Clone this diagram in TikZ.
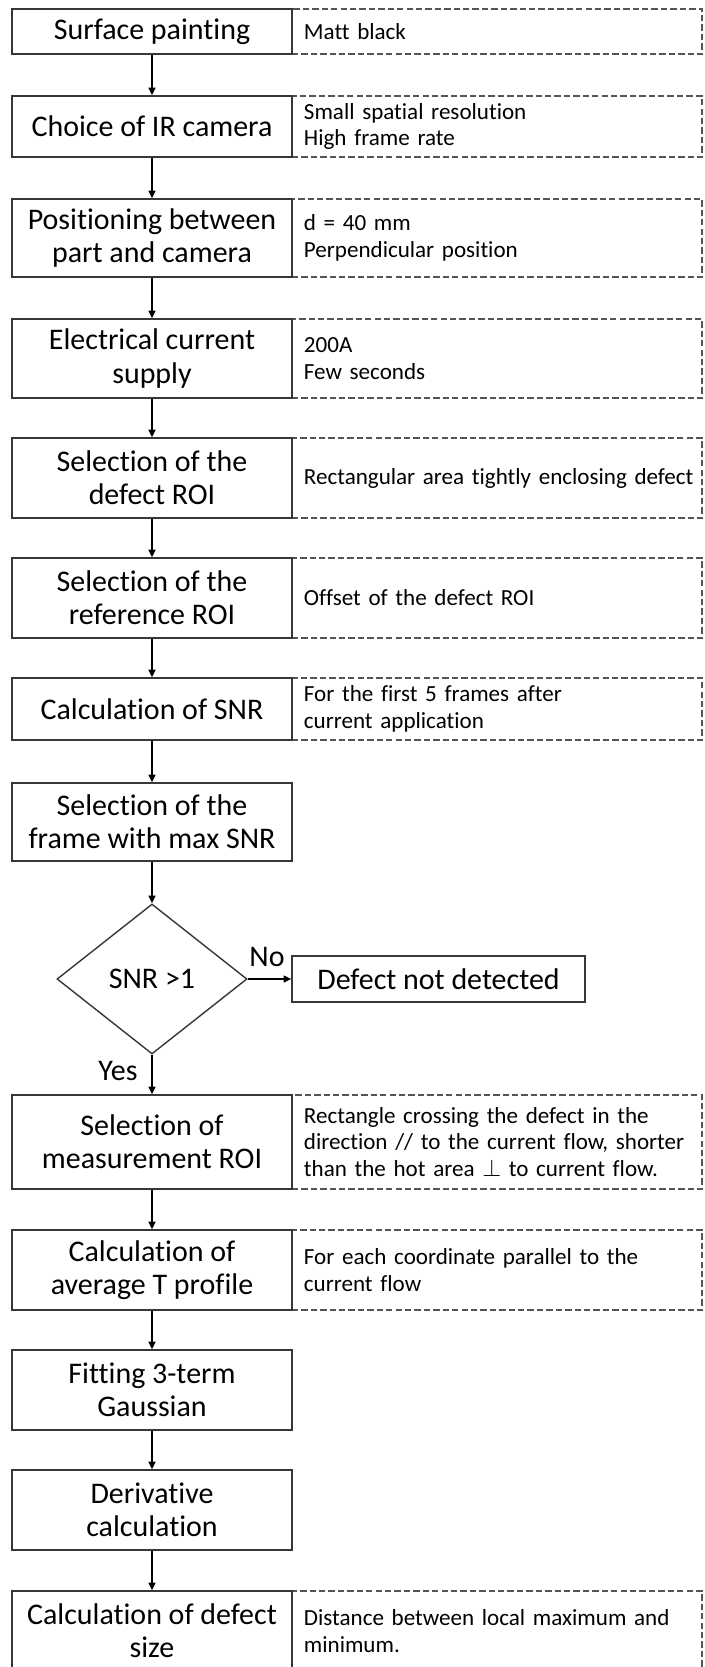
\documentclass[tikz,border=0pt]{standalone}
\usepackage{fontspec}
\setmainfont{Carlito}[Ligatures=NoCommon]
\usetikzlibrary{shapes.geometric,arrows.meta}

\definecolor{boxline}{RGB}{55,55,55}
\definecolor{noteline}{RGB}{85,85,85}

\begin{document}
\begin{tikzpicture}[x=0.025cm,y=-0.025cm]
\tikzset{
  stepbox/.style={draw=boxline, line width=1pt, minimum width=7cm, minimum height=#1*0.025cm,
    inner sep=0pt, align=center, font=\fontsize{21.3}{23.6}\selectfont},
  notebox/.style={draw=noteline, line width=0.9pt, dash pattern=on 4.5pt off 2.2pt,
    minimum width=10.25cm, minimum height=#1*0.025cm, text width=9.65cm,
    inner xsep=0.3cm, inner ysep=0pt, align=left, font=\fontsize{16.4}{19}\selectfont},
  decision/.style={draw=boxline, line width=1pt, diamond, minimum width=4.75cm,
    minimum height=3.75cm, inner sep=0pt, font=\fontsize{21.3}{23.6}\selectfont},
  flow/.style={draw=black, line width=1pt, -{Triangle[length=5.5pt,width=5pt]}},
  lbl/.style={font=\fontsize{21.3}{23.6}\selectfont}
}
    \clip (0,0) rectangle (704,1667);

    % side notes (dashed), drawn first so the step borders sit on top
    \node[notebox=45] (n1) at (497,31.5) {Matt black};
    \node[notebox=61] (n2) at (497,126.5) {Small spatial resolution\\High frame rate};
    \node[notebox=78] (n3) at (497,238) {d = 40 mm\\Perpendicular position};
    \node[notebox=79] (n4) at (497,358.5) {200A\\Few seconds};
    \node[notebox=80] (n5) at (497,478) {\mbox{Rectangular area tightly enclosing defect}};
    \node[notebox=80] (n6) at (497,598) {Offset of the defect ROI};
    \node[notebox=62] (n7) at (497,709) {For the first 5 frames after\\current application};
    \node[notebox=94] (n9) at (497,1142) {Rectangle crossing the defect in the\\direction // to the current flow, shorter\\than the hot area $\perp$ to current flow.};
    \node[notebox=80] (n10) at (497,1270) {For each coordinate parallel to the\\current flow};
    \node[notebox=80] (n13) at (497,1631) {Distance between local maximum and\\minimum.};

    % main steps
    \node[stepbox=45] (s1) at (152,31.5) {Surface painting};
    \node[stepbox=61] (s2) at (152,126.5) {Choice of IR camera};
    \node[stepbox=78] (s3) at (152,238) {Positioning between\\part and camera};
    \node[stepbox=79] (s4) at (152,358.5) {Electrical current\\supply};
    \node[stepbox=80] (s5) at (152,478) {Selection of the\\defect ROI};
    \node[stepbox=80] (s6) at (152,598) {Selection of the\\reference ROI};
    \node[stepbox=62] (s7) at (152,709) {Calculation of SNR};
    \node[stepbox=78] (s8) at (152,822) {Selection of the\\frame with max SNR};
    \node[decision] (dec) at (152,979) {SNR >1};
    \node[stepbox=46, minimum width=7.325cm] (nd) at (438.5,979) {Defect not detected};
    \node[stepbox=94] (s9) at (152,1142) {Selection of\\measurement ROI};
    \node[stepbox=80] (s10) at (152,1270) {Calculation of\\average T profile};
    \node[stepbox=80] (s11) at (152,1390) {Fitting 3-term\\Gaussian};
    \node[stepbox=80] (s12) at (152,1510) {Derivative\\calculation};
    \node[stepbox=80] (s13) at (152,1631) {Calculation of defect\\size};

    \node[lbl] (no) at (267,957) {No};
    \node[lbl] (yes) at (118,1071) {Yes};

    \draw[flow] (s1) -- (s2);
    \draw[flow] (s2) -- (s3);
    \draw[flow] (s3) -- (s4);
    \draw[flow] (s4) -- (s5);
    \draw[flow] (s5) -- (s6);
    \draw[flow] (s6) -- (s7);
    \draw[flow] (s7) -- (s8);
    \draw[flow] (s8) -- (dec);
    \draw[flow] (dec) -- (nd);
    \draw[flow] (dec) -- (s9);
    \draw[flow] (s9) -- (s10);
    \draw[flow] (s10) -- (s11);
    \draw[flow] (s11) -- (s12);
    \draw[flow] (s12) -- (s13);
\end{tikzpicture}
\end{document}
